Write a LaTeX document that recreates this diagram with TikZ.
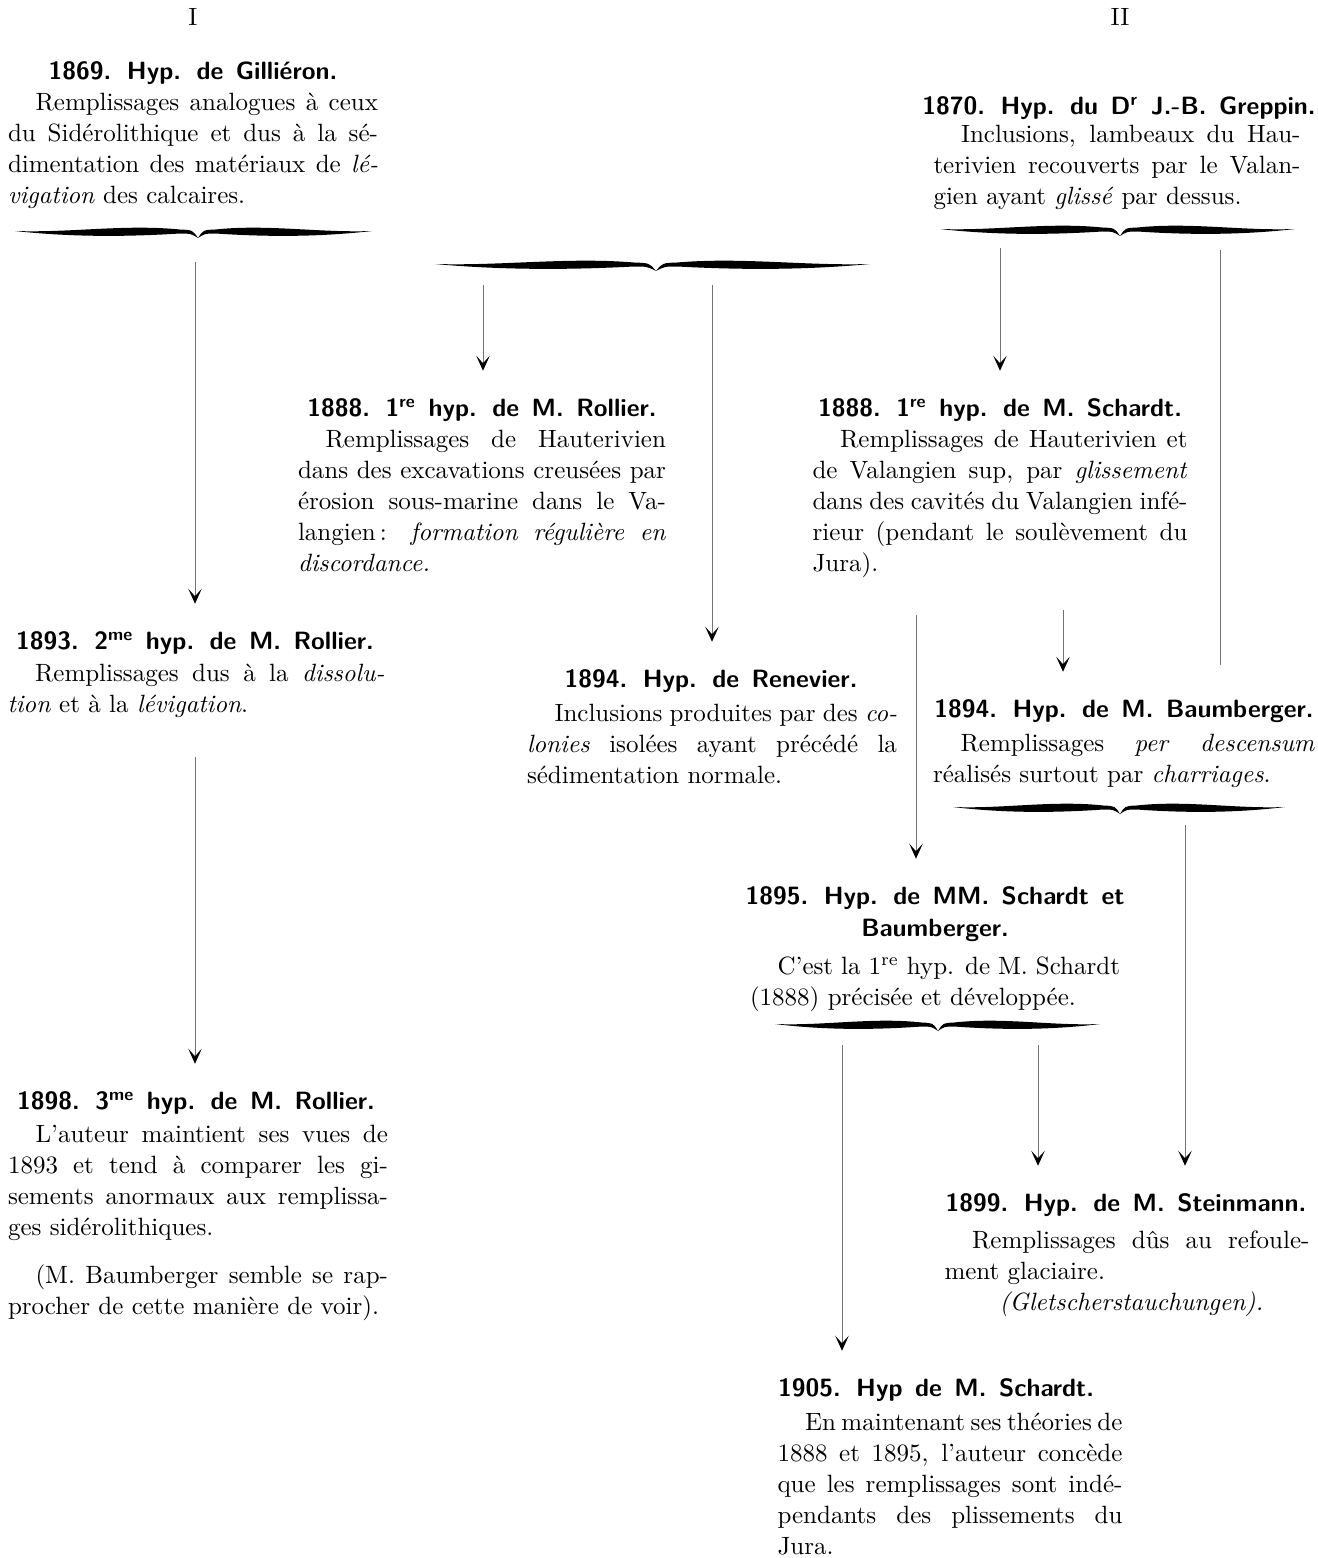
\documentclass[tikz,border=0pt]{standalone}
\usetikzlibrary{arrows.meta}

\newlength\bw
\newcommand\hd{\sffamily\bfseries\fontsize{10}{12.6}\selectfont\spaceskip=5pt plus 1pt minus 1pt}
\newcommand\bd{\fontsize{10}{12.4}\selectfont}
\newcommand\jl[1]{\hbox to\bw{\spaceskip=0pt\xspaceskip=0pt #1}}
\newcommand\el[1]{\hbox{#1}}
\newcommand\ind{\hspace*{11pt}}
% curly brace: left end, tip, right end, height
\newcommand\curlybr[4]{%
  \pgfmathsetmacro\bL{#2-#1}\pgfmathsetmacro\bR{#3-#2}
  \fill ({#1},{#4-1}) .. controls ({#1+0.3*\bL},{#4+1}) and ({#1+0.6*\bL},{#4-8}) .. ({#2-0.1*\bL},{#4-2.5})
     .. controls ({#2-0.03*\bL},{#4-2}) .. ({#2},{#4+6})
     .. controls ({#2-0.04*\bL},{#4+1.5}) .. ({#2-0.1*\bL},{#4+1.5})
     .. controls ({#1+0.6*\bL},{#4+5}) and ({#1+0.3*\bL},{#4+5}) .. cycle;
  \fill ({#3},{#4-1}) .. controls ({#3-0.3*\bR},{#4+1}) and ({#3-0.6*\bR},{#4-8}) .. ({#2+0.1*\bR},{#4-2.5})
     .. controls ({#2+0.03*\bR},{#4-2}) .. ({#2},{#4+6})
     .. controls ({#2+0.04*\bR},{#4+1.5}) .. ({#2+0.1*\bR},{#4+1.5})
     .. controls ({#3-0.6*\bR},{#4+5}) and ({#3-0.3*\bR},{#4+5}) .. cycle;
}

\begin{document}
\begin{tikzpicture}[x=0.4pt, y=-0.4pt,
    hd/.style={font=\hd, inner sep=0pt, text height=7pt, text depth=2pt},
    hdtwo/.style={font=\hd, inner sep=0pt, align=center},
    txt/.style={font=\bd, inner sep=0pt, anchor=north, text width=#1*0.4pt,
        execute at begin node={\bw=\dimexpr 0.4pt*#1\relax}},
    ln/.style={draw=black!55, line width=0.4pt},
    arr/.style={ln, -{Stealth[length=6pt, width=5.4pt, inset=3pt, color=black]}, shorten >=11pt}]
    \useasboundingbox (0,0) rectangle (1318,1558);

    \node[font=\bd] (colI) at (193,17) {I};
    \node[font=\bd] (colII) at (1120,17) {II};

    \node[hd] (gilh) at (193,73) {1869. Hyp. de Gilliéron.};
    \node[txt=370] (gilb) at (193,93) {%
        \jl{\ind Remplissages analogues à ceux}
        \jl{du Sidérolithique et dus à la sé-}
        \jl{dimentation des matériaux de \textit{lé-}}
        \el{\textit{vigation} des calcaires.}};

    \node[hd] (greph) at (1119,108) {1870. Hyp. du D\textsuperscript{r} J.-B. Greppin.};
    \node[txt=367] (grepb) at (1117,125) {%
        \jl{\ind Inclusions, lambeaux du Hau-}
        \jl{terivien recouverts par le Valan-}
        \el{gien ayant \textit{glissé} par dessus.}};

    \node[hd] (rol1h) at (482,410) {1888. 1\textsuperscript{re} hyp. de M. Rollier.};
    \node[txt=368] (rol1b) at (482,430) {%
        \jl{\ind Remplissages de Hauterivien}
        \jl{dans des excavations creusées par}
        \jl{érosion sous-marine dans le Va-}
        \jl{langien\,: \textit{formation régulière en}}
        \el{\textit{discordance.}}};

    \node[hd] (sch1h) at (1000,410) {1888. 1\textsuperscript{re} hyp. de M. Schardt.};
    \node[txt=375] (sch1b) at (1000,430) {%
        \jl{\ind Remplissages de Hauterivien et}
        \jl{de Valangien sup, par \textit{glissement}}
        \jl{dans des cavités du Valangien infé-}
        \jl{rieur (pendant le soulèvement du}
        \el{Jura).}};

    \node[hd] (rol2h) at (195,643) {1893. 2\textsuperscript{me} hyp. de M. Rollier.};
    \node[txt=377] (rol2b) at (196,664) {%
        \jl{\ind Remplissages dus à la \textit{dissolu-}}
        \el{\textit{tion} et à la \textit{lévigation}.}};

    \node[hd] (renh) at (711,681) {1894. Hyp. de Renevier.};
    \node[txt=370] (renb) at (712,704) {%
        \jl{\ind Inclusions produites par des \textit{co-}}
        \jl{\textit{lonies} isolées ayant précédé la}
        \el{sédimentation normale.}};

    \node[hd] (bauh) at (1124,711) {1894. Hyp. de M. Baumberger.};
    \node[txt=382] (baub) at (1124,734) {%
        \jl{\ind Remplissages \textit{per descensum}}
        \el{réalisés surtout par \textit{charriages}.}};

    \node[hdtwo] (mmh) at (935,914) {1895. Hyp. de MM. Schardt et\\Baumberger.};
    \node[txt=370] (mmb) at (935,956) {%
        \jl{\ind C’est la 1\textsuperscript{re} hyp. de M. Schardt}
        \el{(1888) précisée et développée.}};

    \node[hd] (steinh) at (1126,1205) {1899. Hyp. de M. Steinmann.};
    \node[txt=365] (steinb) at (1127,1230) {%
        \jl{\ind Remplissages dûs au refoule-}
        \el{ment glaciaire.}
        \el{\hspace*{22pt}\textit{(Gletscherstauchungen).}}};

    \node[hd] (sch2h) at (936,1390) {1905. Hyp de M. Schardt.};
    \node[txt=345] (sch2b) at (950,1413) {%
        \jl{\ind En maintenant ses théories de}
        \jl{1888 et 1895, l’auteur concède}
        \jl{que les remplissages sont indé-}
        \jl{pendants des plissements du}
        \el{Jura.}};

    \node[hd] (rol3h) at (196,1103) {1898. 3\textsuperscript{me} hyp. de M. Rollier.};
    \node[txt=380] (rol3b) at (198,1125) {%
        \jl{\ind L’auteur maintient ses vues de}
        \jl{1893 et tend à comparer les gi-}
        \jl{sements anormaux aux remplissa-}
        \el{ges sidérolithiques.}
        \vskip 6.5pt
        \jl{\ind (M. Baumberger semble se rap-}
        \el{procher de cette manière de voir).}};

    \curlybr{15}{198}{372}{232}
    \curlybr{435}{656}{870}{265}
    \curlybr{940}{1120}{1295}{230}
    \curlybr{953}{1120}{1285}{808}
    \curlybr{775}{938}{1100}{1025}

    \coordinate (gilbr) at (195,262);
    \coordinate (midl) at (483,285);
    \coordinate (midr) at (712,285);
    \coordinate (grepl) at (1000,248);
    \coordinate (grepr) at (1220,250);
    \coordinate (grepend) at (1220,665);
    \coordinate (schr) at (1063,610);
    \coordinate (schl) at (916,615);
    \coordinate (baubr) at (1185,825);
    \coordinate (mml) at (842,1045);
    \coordinate (mmr) at (1038,1045);
    \coordinate (rolnext) at (195,757);

    \draw[arr] (gilbr) -- (gilbr |- rol2h.north);
    \draw[arr] (rolnext) -- (rolnext |- rol3h.north);
    \draw[arr] (midl) -- (midl |- rol1h.north);
    \draw[arr] (midr) -- (midr |- renh.north);
    \draw[arr] (grepl) -- (grepl |- sch1h.north);
    \draw[ln] (grepr) -- (grepend);
    \draw[arr] (schr) -- (schr |- bauh.north);
    \draw[arr] (schl) -- (schl |- mmh.north);
    \draw[arr] (baubr) -- (baubr |- steinh.north);
    \draw[arr] (mml) -- (mml |- sch2h.north);
    \draw[arr] (mmr) -- (mmr |- steinh.north);
\end{tikzpicture}
\end{document}
